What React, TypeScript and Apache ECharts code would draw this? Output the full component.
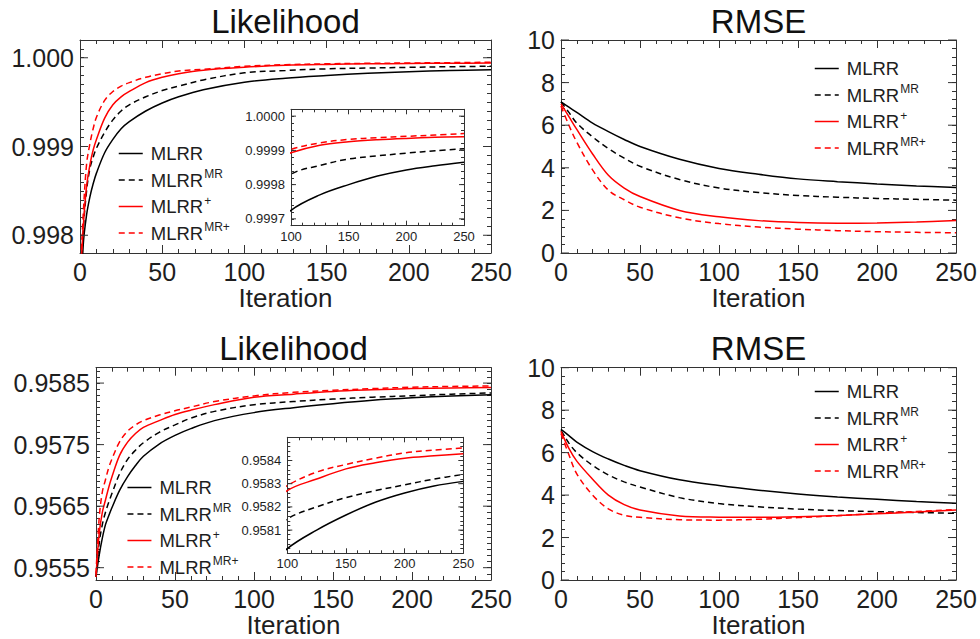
import React, { useEffect, useRef } from 'react';
import * as echarts from 'echarts';

// ---------------- data ----------------
const SERIES_NAMES = ['MLRR', 'MLRR^MR', 'MLRR^+', 'MLRR^MR+'];

const ITER_L = [0, 2, 4, 6, 8, 10, 15, 20, 25, 30, 40, 50, 60, 75, 100, 125, 150, 175, 200, 225, 250];
const ITER_R = [0, 5, 10, 20, 30, 40, 50, 75, 100, 125, 150, 175, 200, 225, 250];

// top row, likelihood
const LIK1_MLRR = [0.997, 0.9979, 0.99823, 0.99843, 0.99858, 0.9987, 0.99893, 0.99908, 0.9992, 0.99928, 0.9994, 0.99949, 0.99956, 0.99964, 0.999725, 0.99977, 0.9998, 0.999825, 0.999843, 0.999855, 0.999865];
const LIK1_MLRR_MR = [0.9972, 0.99805, 0.9985, 0.99875, 0.99888, 0.99898, 0.99916, 0.9993, 0.9994, 0.99947, 0.99956, 0.99963, 0.99968, 0.99975, 0.99983, 0.999856, 0.999875, 0.999884, 0.999892, 0.999899, 0.999905];
const LIK1_MLRR_P = [0.9974, 0.9981, 0.99855, 0.99879, 0.99896, 0.99908, 0.99932, 0.99947, 0.99956, 0.99962, 0.99972, 0.99978, 0.99982, 0.99986, 0.999893, 0.999915, 0.999925, 0.999931, 0.999935, 0.999938, 0.99994];
const LIK1_MLRR_MRP = [0.9975, 0.99825, 0.9988, 0.99903, 0.9992, 0.99933, 0.99952, 0.99962, 0.99968, 0.99972, 0.99978, 0.99982, 0.99985, 0.99987, 0.999903, 0.999922, 0.999932, 0.999937, 0.999941, 0.999945, 0.999949];

// top row, RMSE
const RMSE1_MLRR = [7.1, 6.85, 6.6, 6.1, 5.7, 5.33, 5.0, 4.4, 3.97, 3.7, 3.48, 3.35, 3.24, 3.15, 3.08];
const RMSE1_MLRR_MR = [7.1, 6.6, 6.1, 5.45, 4.9, 4.45, 4.07, 3.45, 3.05, 2.84, 2.7, 2.62, 2.56, 2.52, 2.48];
const RMSE1_MLRR_P = [7.0, 6.4, 5.8, 4.65, 3.65, 3.05, 2.65, 2.0, 1.7, 1.52, 1.43, 1.4, 1.41, 1.45, 1.52];
const RMSE1_MLRR_MRP = [6.9, 6.0, 5.2, 3.9, 2.95, 2.5, 2.15, 1.65, 1.38, 1.22, 1.12, 1.05, 1.0, 0.97, 0.95];

// bottom row, likelihood
const LIK2_MLRR = [0.95535, 0.9557, 0.95598, 0.9562, 0.95634, 0.95647, 0.95676, 0.95698, 0.95716, 0.95731, 0.95751, 0.95765, 0.95776, 0.95789, 0.95802, 0.9581, 0.958165, 0.95822, 0.95826, 0.95829, 0.95831];
const LIK2_MLRR_MR = [0.95535, 0.9559, 0.9562, 0.9564, 0.95656, 0.9567, 0.95703, 0.95726, 0.95741, 0.95753, 0.9577, 0.95782, 0.95793, 0.95804, 0.958148, 0.9582, 0.95824, 0.95827, 0.958295, 0.95832, 0.95834];
const LIK2_MLRR_P = [0.95535, 0.95605, 0.9564, 0.9566, 0.9568, 0.95697, 0.95733, 0.95754, 0.95768, 0.95778, 0.95789, 0.95799, 0.95806, 0.95815, 0.95827, 0.95832, 0.958364, 0.95839, 0.95841, 0.95842, 0.958429];
const LIK2_MLRR_MRP = [0.9554, 0.9563, 0.95673, 0.95693, 0.95712, 0.95726, 0.95755, 0.95772, 0.95782, 0.95789, 0.95798, 0.95805, 0.95811, 0.9582, 0.958292, 0.95835, 0.958383, 0.95841, 0.958433, 0.958445, 0.958454];

// bottom row, RMSE
const RMSE2_MLRR = [7.1, 6.8, 6.5, 6.05, 5.7, 5.4, 5.15, 4.72, 4.45, 4.23, 4.05, 3.91, 3.8, 3.7, 3.62];
const RMSE2_MLRR_MR = [7.05, 6.45, 6.0, 5.4, 4.95, 4.62, 4.38, 3.88, 3.6, 3.45, 3.34, 3.27, 3.22, 3.18, 3.14];
const RMSE2_MLRR_P = [7.0, 6.2, 5.6, 4.75, 4.0, 3.55, 3.3, 3.02, 2.96, 2.95, 2.98, 3.04, 3.12, 3.2, 3.3];
const RMSE2_MLRR_MRP = [6.9, 5.9, 5.0, 4.0, 3.35, 3.05, 2.95, 2.84, 2.82, 2.86, 2.94, 3.03, 3.14, 3.23, 3.32];

// tick labels
const X_TICKS = [0, 50, 100, 150, 200, 250];
const INSET_X_TICKS = [100, 150, 200, 250];
const LIK1_TICKS = [0.998, 0.999, 1.0];
const LIK2_TICKS = [0.9555, 0.9565, 0.9575, 0.9585];
const RMSE_TICKS = [0, 2, 4, 6, 8, 10];
const INSET1_TICKS = [0.9997, 0.9998, 0.9999, 1.0];
const INSET2_TICKS = [0.9581, 0.9582, 0.9583, 0.9584];

// ---------------- styles ----------------
const FONT = "'Liberation Sans', Arial, Helvetica, sans-serif";
const AXIS_COLOR = '#333333';
const TEXT_COLOR = '#1e1e1e';
const LINE_COLORS = ['#000000', '#000000', '#ff0000', '#ff0000'];
const LINE_DASHED = [false, true, false, true];

type Panel = {
  grid: { left: number; top: number; width: number; height: number };
  inset: boolean;
  x: { min: number; max: number; ticks: number[] };
  y: { min: number; max: number; step: number; ticks: number[]; dec: number };
  iters: number[];
  data: number[][];
  legend?: { left: number; top: number };
  title?: { text: string; top: number };
};

const PANELS: Panel[] = [
  {
    grid: { left: 80, top: 40, width: 411, height: 213 },
    inset: false,
    x: { min: 0, max: 250, ticks: X_TICKS },
    y: { min: 0.9978, max: 1.0002, step: 0.0001, ticks: LIK1_TICKS, dec: 3 },
    iters: ITER_L,
    data: [LIK1_MLRR, LIK1_MLRR_MR, LIK1_MLRR_P, LIK1_MLRR_MRP],
    legend: { left: 118, top: 144 },
    title: { text: 'Likelihood', top: 5 },
  },
  {
    grid: { left: 561, top: 40, width: 395, height: 213 },
    inset: false,
    x: { min: 0, max: 250, ticks: X_TICKS },
    y: { min: 0, max: 10, step: 0.4, ticks: RMSE_TICKS, dec: 0 },
    iters: ITER_R,
    data: [RMSE1_MLRR, RMSE1_MLRR_MR, RMSE1_MLRR_P, RMSE1_MLRR_MRP],
    legend: { left: 814, top: 59 },
    title: { text: 'RMSE', top: 5 },
  },
  {
    grid: { left: 96, top: 367.7, width: 395, height: 212.3 },
    inset: false,
    x: { min: 0, max: 250, ticks: X_TICKS },
    y: { min: 0.9553, max: 0.95875, step: 0.0001, ticks: LIK2_TICKS, dec: 4 },
    iters: ITER_L,
    data: [LIK2_MLRR, LIK2_MLRR_MR, LIK2_MLRR_P, LIK2_MLRR_MRP],
    legend: { left: 126.7, top: 478 },
    title: { text: 'Likelihood', top: 332 },
  },
  {
    grid: { left: 561, top: 367.7, width: 395, height: 212.3 },
    inset: false,
    x: { min: 0, max: 250, ticks: X_TICKS },
    y: { min: 0, max: 10, step: 0.4, ticks: RMSE_TICKS, dec: 0 },
    iters: ITER_R,
    data: [RMSE2_MLRR, RMSE2_MLRR_MR, RMSE2_MLRR_P, RMSE2_MLRR_MRP],
    legend: { left: 814, top: 382 },
    title: { text: 'RMSE', top: 332 },
  },
  {
    grid: { left: 291, top: 109.3, width: 173, height: 116.4 },
    inset: true,
    x: { min: 100, max: 250, ticks: INSET_X_TICKS },
    y: { min: 0.99968, max: 1.00002, step: 0.00002, ticks: INSET1_TICKS, dec: 4 },
    iters: ITER_L,
    data: [LIK1_MLRR, LIK1_MLRR_MR, LIK1_MLRR_P, LIK1_MLRR_MRP],
  },
  {
    grid: { left: 287.3, top: 437.3, width: 176, height: 116 },
    inset: true,
    x: { min: 100, max: 250, ticks: INSET_X_TICKS },
    y: { min: 0.958, max: 0.9585, step: 0.00002, ticks: INSET2_TICKS, dec: 4 },
    iters: ITER_L,
    data: [LIK2_MLRR, LIK2_MLRR_MR, LIK2_MLRR_P, LIK2_MLRR_MRP],
  },
];

function legendFormatter(name: string) {
  const [base, sup] = name.split('^');
  return sup ? `{b|${base}}{s|${sup}}` : `{b|${base}}`;
}

function buildOption() {
  const grid: any[] = [];
  const xAxis: any[] = [];
  const yAxis: any[] = [];
  const series: any[] = [];
  const legend: any[] = [];
  const title: any[] = [];

  PANELS.forEach((p, g) => {
    grid.push({
      ...p.grid,
      containLabel: false,
      show: p.inset,
      backgroundColor: '#ffffff',
      borderWidth: 0,
      z: p.inset ? 10 : 2,
    });
    const z = p.inset ? 11 : 3;
    const labelSize = p.inset ? 13 : 25;
    const majLen = p.inset ? 5 : 8;
    const minLen = p.inset ? 3 : 4;
    const axisLine = { show: true, onZero: false, lineStyle: { color: AXIS_COLOR, width: 1 } };
    const xInterval = p.x.ticks[1] - p.x.ticks[0];
    const xBase = {
      type: 'value',
      gridIndex: g,
      min: p.x.min,
      max: p.x.max,
      interval: xInterval,
      axisLine,
      axisTick: { show: true, inside: true, length: majLen, lineStyle: { color: AXIS_COLOR, width: 1 } },
      minorTick: { show: true, splitNumber: 5, length: minLen, lineStyle: { color: AXIS_COLOR, width: 1 } },
      splitLine: { show: false },
      minorSplitLine: { show: false },
      z,
    };
    xAxis.push({
      ...xBase,
      position: 'bottom',
      axisLabel: {
        show: true,
        margin: p.inset ? 4 : 6,
        fontSize: labelSize,
        color: TEXT_COLOR,
        fontFamily: FONT,
      },
      name: p.inset ? '' : 'Iteration',
      nameLocation: 'middle',
      nameGap: 30,
      nameTextStyle: { fontSize: 26, color: TEXT_COLOR, fontFamily: FONT },
    });
    xAxis.push({ ...xBase, position: 'top', axisLabel: { show: false } });

    const yTicks = p.y.ticks;
    const step = p.y.step;
    const dec = p.y.dec;
    const fmt = (v: number) =>
      yTicks.some((m) => Math.abs(m - v) < step * 0.01) ? v.toFixed(dec) : '';
    const yBase = {
      type: 'value',
      gridIndex: g,
      min: p.y.min,
      max: p.y.max,
      interval: step,
      axisLine,
      axisTick: { show: true, inside: true, length: minLen, lineStyle: { color: AXIS_COLOR, width: 1 } },
      splitLine: { show: false },
      z,
    };
    yAxis.push({
      ...yBase,
      position: 'left',
      axisLabel: {
        show: true,
        margin: 6,
        fontSize: labelSize,
        color: TEXT_COLOR,
        fontFamily: FONT,
        formatter: fmt,
      },
    });
    yAxis.push({ ...yBase, position: 'right', axisLabel: { show: false } });

    p.data.forEach((vals, k) => {
      series.push({
        type: 'line',
        name: SERIES_NAMES[k],
        xAxisIndex: 2 * g,
        yAxisIndex: 2 * g,
        data: p.iters.map((it, i) => [it, vals[i]]),
        symbol: 'none',
        showSymbol: false,
        smooth: 0.35,
        clip: true,
        silent: true,
        z: p.inset ? 12 : 3,
        itemStyle: { color: LINE_COLORS[k] },
        lineStyle: {
          color: LINE_COLORS[k],
          width: 1.5,
          type: LINE_DASHED[k] ? [6, 4] : 'solid',
        },
      });
    });

    // long (major) ticks on left and right edges
    series.push({
      type: 'custom',
      xAxisIndex: 2 * g,
      yAxisIndex: 2 * g,
      silent: true,
      clip: false,
      z: p.inset ? 13 : 4,
      data: yTicks.map((v) => [p.x.min, v]),
      renderItem: (params: any, api: any) => {
        const cs = params.coordSys;
        const y = api.coord([api.value(0), api.value(1)])[1];
        const st = { stroke: AXIS_COLOR, lineWidth: 1 };
        return {
          type: 'group',
          children: [
            { type: 'line', shape: { x1: cs.x, y1: y, x2: cs.x + majLen, y2: y }, style: st },
            { type: 'line', shape: { x1: cs.x + cs.width - majLen, y1: y, x2: cs.x + cs.width, y2: y }, style: st },
          ],
        };
      },
    });

    if (p.legend) {
      legend.push({
        left: p.legend.left,
        top: p.legend.top,
        orient: 'vertical',
        padding: 0,
        itemGap: 5,
        itemWidth: 24,
        itemHeight: 14,
        selectedMode: false,
        data: SERIES_NAMES,
        formatter: legendFormatter,
        itemStyle: { opacity: 0, borderWidth: 0 },
        lineStyle: { width: 1.5 },
        textStyle: {
          fontFamily: FONT,
          color: TEXT_COLOR,
          fontSize: 18.5,
          rich: {
            b: { fontFamily: FONT, color: TEXT_COLOR, fontSize: 18.5, lineHeight: 24, padding: [0, 0, 0, 3] },
            s: { fontFamily: FONT, color: TEXT_COLOR, fontSize: 12, lineHeight: 12, verticalAlign: 'top', padding: [0, 0, 0, 1] },
          },
        },
      });
    }
    if (p.title) {
      title.push({
        text: p.title.text,
        left: p.grid.left + p.grid.width / 2,
        top: p.title.top,
        textAlign: 'center',
        padding: 0,
        textStyle: { fontFamily: FONT, fontSize: 33, fontWeight: 'normal', color: '#111111' },
      });
    }
  });

  return {
    animation: false,
    backgroundColor: '#ffffff',
    title,
    legend,
    grid,
    xAxis,
    yAxis,
    series,
  };
}

export default function App() {
  const ref = useRef<HTMLDivElement>(null);
  useEffect(() => {
    document.body.style.margin = '0';
    if (!ref.current) return;
    const chart = echarts.init(ref.current, undefined, { renderer: 'svg' });
    chart.setOption(buildOption() as any);
    return () => chart.dispose();
  }, []);
  return <div ref={ref} style={{ width: 980, height: 639 }} />;
}
